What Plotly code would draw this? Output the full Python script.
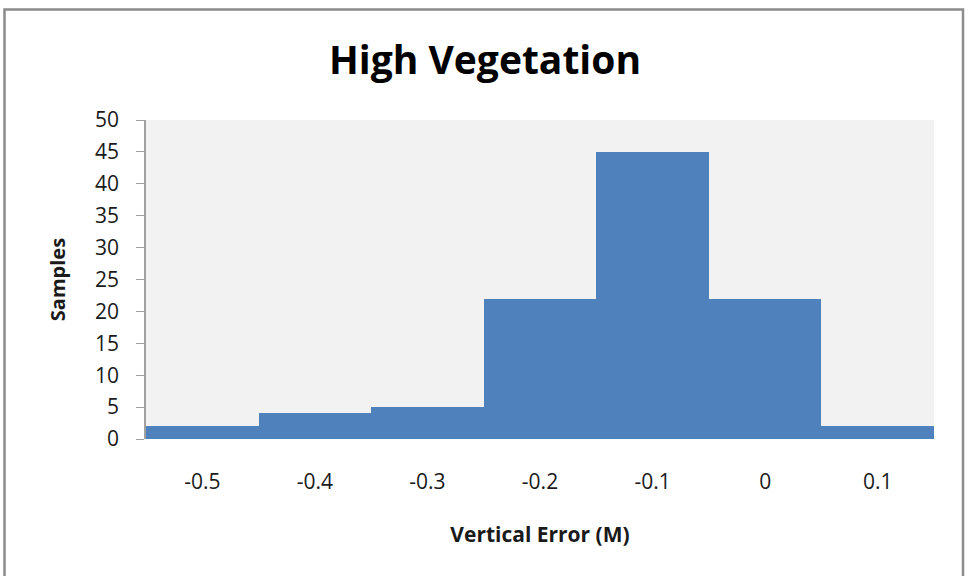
import plotly.graph_objects as go

categories = ["-0.5", "-0.4", "-0.3", "-0.2", "-0.1", "0", "0.1"]
samples = [2, 4, 5, 22, 45, 22, 2]
y_ticks = [0, 5, 10, 15, 20, 25, 30, 35, 40, 45, 50]

W, H = 969, 576
L, R, T, B = 146, 35, 120, 137
pw, ph = W - L - R, H - T - B

def px_x(x):
    return (x - L) / pw

def px_y(y):
    return (H - B - y) / ph

font = "Open Sans"
txt = "#1a1a1a"

fig = go.Figure()
fig.add_trace(go.Bar(x=categories, y=samples, marker=dict(color="#4F81BD", line=dict(width=0))))

fig.update_layout(
    width=W, height=H,
    margin=dict(l=L, r=R, t=T, b=B),
    paper_bgcolor="white",
    plot_bgcolor="#F2F2F2",
    bargap=0,
    showlegend=False,
    font=dict(family=font, color=txt),
    title=dict(text="<b>High Vegetation</b>", x=485 / W, xref="container", xanchor="center",
               y=1 - 60 / H, yref="container", yanchor="middle",
               font=dict(size=39, color="black", family=font)),
)
fig.update_xaxes(
    type="category", showgrid=False, showline=False, ticks="",
    tickfont=dict(size=21, color=txt), ticklabelstandoff=28,
    title=dict(text="<b>Vertical Error (M)</b>", font=dict(size=21, color=txt), standoff=33),
)
fig.update_yaxes(
    range=[0, 50], tickvals=y_ticks, showgrid=False, zeroline=False,
    showline=True, linecolor="#A0A0A0", linewidth=1.5,
    ticks="outside", ticklen=8, tickcolor="#A0A0A0",
    tickfont=dict(size=21, color=txt), ticklabelstandoff=13,
    title=dict(text="<b>Samples</b>", font=dict(size=20, color=txt), standoff=24),
)
fig.add_shape(type="rect", xref="paper", yref="paper",
              x0=px_x(4.5), x1=px_x(963), y0=px_y(600), y1=px_y(9.5),
              line=dict(color="#8C8C8C", width=2.5), fillcolor="rgba(0,0,0,0)", layer="below")

fig.write_html("out.html", config={"displayModeBar": False},
               post_script="document.body.style.margin='0';document.body.style.overflow='hidden';")
